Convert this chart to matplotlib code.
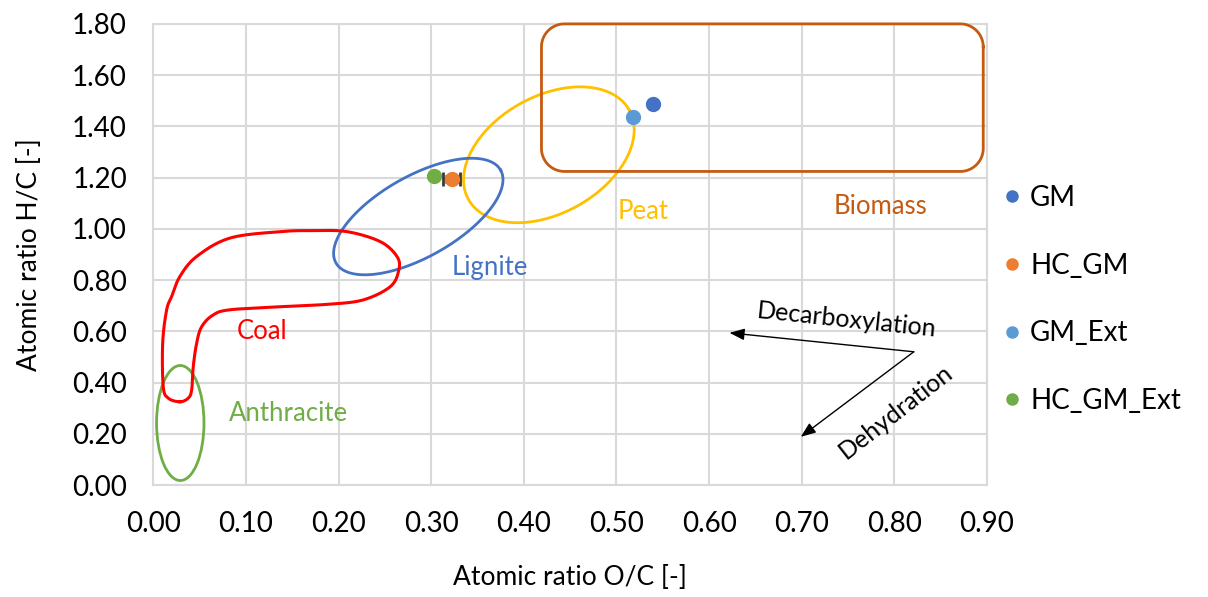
import numpy as np
import matplotlib
matplotlib.use("Agg")
import matplotlib.pyplot as plt
from matplotlib.patches import Ellipse
from matplotlib.lines import Line2D

plt.rcParams['font.family'] = ['Lato', 'DejaVu Sans']

# ---------------- data ----------------
series_names = ["GM", "HC_GM", "GM_Ext", "HC_GM_Ext"]
series_colors = ["#4472C4", "#ED7D31", "#5B9BD5", "#70AD47"]
oc_values = [0.539, 0.322, 0.518, 0.303]
hc_values = [1.488, 1.195, 1.435, 1.205]
oc_err = [0.0, 0.009, 0.0, 0.0]
hc_err = [0.0, 0.012, 0.0, 0.0]

x_ticks = [0.0, 0.1, 0.2, 0.3, 0.4, 0.5, 0.6, 0.7, 0.8, 0.9]
y_ticks = [0.0, 0.2, 0.4, 0.6, 0.8, 1.0, 1.2, 1.4, 1.6, 1.8]

# Region outlines (data units)
coal_outline = [
    (0.0286, 0.325), (0.016, 0.339), (0.0106, 0.384), (0.010, 0.555),
    (0.0143, 0.684), (0.0197, 0.736), (0.0286, 0.814), (0.0467, 0.892),
    (0.0827, 0.964), (0.137, 0.989), (0.172, 0.993), (0.209, 0.989),
    (0.245, 0.950), (0.263, 0.892), (0.265, 0.840), (0.256, 0.775),
    (0.227, 0.723), (0.191, 0.706), (0.137, 0.696), (0.0827, 0.684),
    (0.0646, 0.664), (0.0521, 0.618), (0.0467, 0.554), (0.043, 0.462),
    (0.0413, 0.371), (0.0376, 0.339),
]

# ---------------- figure ----------------
W, H = 1208, 597
fig = plt.figure(figsize=(W / 100, H / 100), dpi=100)
ax = fig.add_axes([0.127, 0.1876, 0.69, 0.7724])
ax.set_xlim(0, 0.9)
ax.set_ylim(0, 1.8)
ax.set_xticks(x_ticks)
ax.set_yticks(y_ticks)
ax.set_xticklabels([f"{v:.2f}" for v in x_ticks])
ax.set_yticklabels([f"{v:.2f}" for v in y_ticks])
ax.tick_params(length=0, labelsize=20, colors="#000000")
ax.tick_params(axis="x", pad=19)
ax.tick_params(axis="y", pad=19)
ax.grid(True, color="#D9D9D9", linewidth=1.5)
ax.set_axisbelow(True)
for s in ax.spines.values():
    s.set_color("#D9D9D9")
    s.set_linewidth(1.5)
ax.set_xlabel("Atomic ratio O/C [-]", fontsize=19, labelpad=20)
ax.set_ylabel("Atomic ratio H/C [-]", fontsize=19, labelpad=22)

# pixel scale per data unit
sx = 0.69 * W / 0.9
sy = 0.7724 * H / 1.8


def rot_ellipse(cx, cy, a_px, b_px, ang_deg, n=300):
    t = np.linspace(0, 2 * np.pi, n)
    th = np.deg2rad(ang_deg)
    u = a_px * np.cos(t)
    v = b_px * np.sin(t)
    dx = u * np.cos(th) - v * np.sin(th)
    dy = u * np.sin(th) + v * np.cos(th)
    return cx + dx / sx, cy + dy / sy


def catmull_closed(pts, n=20):
    P = np.array(pts)
    m = len(P)
    out = []
    for i in range(m):
        p0, p1, p2, p3 = P[(i - 1) % m], P[i], P[(i + 1) % m], P[(i + 2) % m]
        for t in np.linspace(0, 1, n, endpoint=False):
            t2, t3 = t * t, t * t * t
            out.append(0.5 * ((2 * p1) + (-p0 + p2) * t + (2 * p0 - 5 * p1 + 4 * p2 - p3) * t2
                              + (-p0 + 3 * p1 - 3 * p2 + p3) * t3))
    out.append(out[0])
    return np.array(out)


# Biomass rounded rectangle
rx, ry = 23 / sx, 23 / sy
x0, x1, y0, y1 = 0.419, 0.896, 1.224, 1.80
tt = np.linspace(0, np.pi / 2, 30)
bx, by = [], []
for (cx, cy, start) in [(x1 - rx, y1 - ry, 0), (x0 + rx, y1 - ry, np.pi / 2),
                        (x0 + rx, y0 + ry, np.pi), (x1 - rx, y0 + ry, 1.5 * np.pi)]:
    bx.extend(cx + rx * np.cos(start + tt))
    by.extend(cy + ry * np.sin(start + tt))
bx.append(bx[0]); by.append(by[0])
ax.plot(bx, by, color="#C55A11", lw=2, zorder=3, clip_on=False)

# Peat ellipse
px_, py_ = rot_ellipse(0.427, 1.289, 92, 58.6, 29)
ax.plot(px_, py_, color="#FFC000", lw=2, zorder=2)
# Lignite ellipse
lx_, ly_ = rot_ellipse(0.286, 1.048, 94.5, 40.5, 29.4)
ax.plot(lx_, ly_, color="#4472C4", lw=2, zorder=2)
# Anthracite ellipse
ax.add_patch(Ellipse((0.029, 0.242), 0.0512, 0.449, fill=False, edgecolor="#70AD47", lw=2, zorder=2))
# Coal outline
cc = catmull_closed(coal_outline)
ax.plot(cc[:, 0], cc[:, 1], color="#FF0000", lw=2.2, zorder=2)

# Region labels
lab_kw = dict(fontsize=18.5, ha="center", va="center")
ax.text(0.117, 0.598, "Coal", color="#FF0000", **lab_kw)
ax.text(0.363, 0.848, "Lignite", color="#4472C4", **lab_kw)
ax.text(0.529, 1.066, "Peat", color="#FFC000", **lab_kw)
ax.text(0.785, 1.087, "Biomass", color="#C55A11", **lab_kw)
ax.text(0.146, 0.281, "Anthracite", color="#70AD47", **lab_kw)

# Arrows
arrow_kw = dict(arrowstyle="-|>,head_length=0.9,head_width=0.35", color="black", lw=1, shrinkA=0, shrinkB=0)
ax.annotate("", xy=(0.622, 0.594), xytext=(0.821, 0.520), arrowprops=arrow_kw)
ax.annotate("", xy=(0.699, 0.188), xytext=(0.821, 0.520), arrowprops=arrow_kw)
ax.text(0.748, 0.645, "Decarboxylation", fontsize=18, rotation=-6, ha="center", va="center")
ax.text(0.802, 0.285, "Dehydration", fontsize=18, rotation=38, ha="center", va="center")

# Data points
handles = []
for name, c, x, y, xe, ye in zip(series_names, series_colors, oc_values, hc_values, oc_err, hc_err):
    z = 5
    if xe > 0 or ye > 0:
        ax.errorbar(x, y, xerr=xe, yerr=ye, fmt="none", ecolor="#3A3A3A", elinewidth=1.5,
                    capsize=5, capthick=2, zorder=5.5)
        z = 6
    ax.plot(x, y, "o", color=c, markersize=10, zorder=z)
    handles.append(Line2D([], [], marker="o", linestyle="none", color=c, markersize=8, label=name))

fig.legend(handles=handles, loc="upper left", bbox_to_anchor=(0.8286, 0.69), frameon=False,
           fontsize=20, labelspacing=1.5, handletextpad=0.25, handlelength=0.8, borderaxespad=0,
           borderpad=0)

fig.savefig("out.png", dpi=100)
